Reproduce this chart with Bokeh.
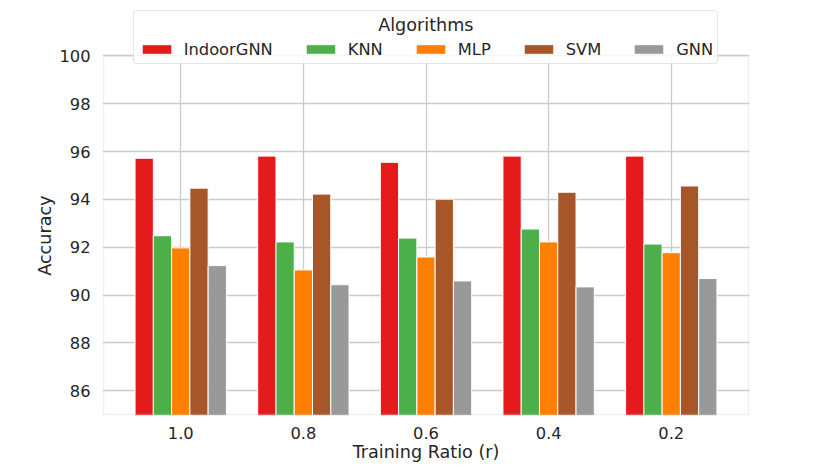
from bokeh.plotting import figure
from bokeh.models import Range1d, FixedTicker, Legend, LegendItem, BoxAnnotation, Grid
from bokeh.embed import file_html
from bokeh.resources import INLINE

# ---- data ----
ratios = ["1.0", "0.8", "0.6", "0.4", "0.2"]
algorithms = ["IndoorGNN", "KNN", "MLP", "SVM", "GNN"]
indoorgnn = [95.72, 95.81, 95.55, 95.81, 95.81]
knn = [92.48, 92.22, 92.38, 92.76, 92.13]
mlp = [91.97, 91.05, 91.59, 92.22, 91.77]
svm = [94.47, 94.22, 94.01, 94.30, 94.56]
gnn = [91.23, 90.43, 90.59, 90.34, 90.69]
colors = ["#e41a1c", "#4daf4a", "#ff7f00", "#a65628", "#999999"]
y_ticks = [86, 88, 90, 92, 94, 96, 98, 100]
legend_title = "Algorithms"

# axes box limits (data units) and headroom for the legend
X_LO, X_HI = -0.63, 4.63
Y_LO, Y_HI = 85, 100
Y_TOP = 102.11

FONT = "DejaVu Sans"
TXT = "#262626"
GRID = "#cccccc"

p = figure(width=830, height=467,
           min_border_left=102, min_border_right=81,
           min_border_top=5, min_border_bottom=52,
           x_range=Range1d(X_LO - 0.008, X_HI + 0.008),
           y_range=Range1d(Y_LO - 0.04, Y_TOP),
           output_backend="svg", toolbar_location=None)
p.background_fill_color = "white"
p.border_fill_color = "white"
p.outline_line_color = None

series = [indoorgnn, knn, mlp, svm, gnn]
xs = list(range(len(ratios)))
bar_w = 0.149
renderers = []
for i, (vals, c) in enumerate(zip(series, colors)):
    off = (i - (len(series) - 1) / 2) * bar_w
    r = p.vbar(x=[x + off for x in xs], top=vals, bottom=0, width=bar_w,
               fill_color=c, line_color="white", line_width=1)
    renderers.append(r)

# axes
for ax in (p.xaxis[0], p.yaxis[0]):
    ax.axis_line_color = None
    ax.major_tick_line_color = None
    ax.minor_tick_line_color = None
    ax.major_tick_in = 0
    ax.major_tick_out = 0
    ax.minor_tick_in = 0
    ax.minor_tick_out = 0
    ax.major_label_text_font = FONT
    ax.major_label_text_font_size = "16.3px"
    ax.major_label_text_color = TXT
    ax.axis_label_text_font = FONT
    ax.axis_label_text_font_size = "17.6px"
    ax.axis_label_text_font_style = "normal"
    ax.axis_label_text_color = TXT
p.xaxis.ticker = FixedTicker(ticks=xs)
p.xaxis.major_label_overrides = {i: r for i, r in enumerate(ratios)}
p.xaxis.major_label_standoff = 11
p.xaxis.axis_label = "Training Ratio (r)"
p.xaxis.axis_label_standoff = 0
p.yaxis.ticker = FixedTicker(ticks=y_ticks)
p.yaxis.major_label_standoff = 12
# trailing no-break spaces re-centre the label on the 85-100 box
p.yaxis.axis_label = "Accuracy" + "\u00a0" * 9
p.yaxis.axis_label_standoff = 1

p.ygrid.grid_line_color = GRID
p.ygrid.grid_line_width = 1.3
if "cross_bounds" in Grid.properties():
    p.xgrid.grid_line_color = GRID
    p.xgrid.grid_line_width = 1.3
    p.xgrid.cross_bounds = (Y_LO, Y_HI)
else:
    p.xgrid.grid_line_color = None
    p.segment(x0=xs, x1=xs, y0=Y_LO, y1=Y_HI, line_color=GRID, line_width=1.3, level="underlay")

# axes box (spines)
p.add_layout(BoxAnnotation(left=X_LO, right=X_HI, bottom=Y_LO, top=Y_HI,
                           fill_alpha=0, line_color=GRID, line_width=1.6))

legend = Legend(items=[LegendItem(label=n, renderers=[r]) for n, r in zip(algorithms, renderers)],
                orientation="horizontal", location=(30.7, 351),
                title="\u00a0" * 43 + legend_title,
                title_text_font=FONT, title_text_font_size="17.6px",
                title_text_font_style="normal", title_text_color=TXT, title_standoff=4,
                glyph_width=37, glyph_height=12, label_standoff=9, spacing=29,
                padding=4, margin=0, label_height=20,
                label_text_font=FONT, label_text_font_size="16.3px",
                label_text_color=TXT,
                background_fill_color="white", background_fill_alpha=0.8,
                border_line_color=GRID, border_line_width=1)
if "border_radius" in Legend.properties():
    legend.border_radius = 4
p.add_layout(legend)

open("out.html", "w").write(file_html(p, INLINE))
